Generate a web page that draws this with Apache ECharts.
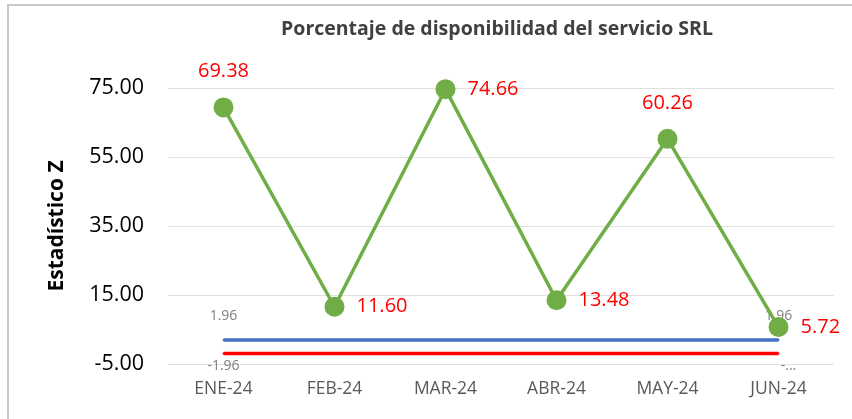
<!DOCTYPE html>
<html>
<head>
<meta charset="utf-8">
<script src="https://cdn.jsdelivr.net/npm/echarts@6/dist/echarts.min.js"></script>
<style>
  html, body { margin: 0; padding: 0; background: #fff; }
  #chart { width: 852px; height: 419px; }
</style>
</head>
<body>
<div id="chart"></div>
<script>
const months = ['ENE-24', 'FEB-24', 'MAR-24', 'ABR-24', 'MAY-24', 'JUN-24']
const zValues = [69.38, 11.60, 74.66, 13.48, 60.26, 5.72]
const upperLimit = [1.96, 1.96, 1.96, 1.96, 1.96, 1.96]
const lowerLimit = [-1.96, -1.96, -1.96, -1.96, -1.96, -1.96]
const zLabelPos = ['top', 'right', 'right', 'right', 'top', 'right']

const font = '"Open Sans", "Noto Sans", sans-serif'
const chart = echarts.init(document.getElementById('chart'))

// small grey labels only on first and last points of the limit lines
function limitData (values, position, lastText) {
  return values.map((v, i) => {
    const edge = i === 0 || i === values.length - 1
    const last = i === values.length - 1
    return {
      value: v,
      label: {
        show: edge,
        position: position,
        distance: position === 'top' ? 16 : 5,
        offset: last && lastText ? [10, 0] : [0, 0],
        color: '#7f7f7f',
        fontSize: 14,
        fontFamily: font,
        formatter: last && lastText ? lastText : '{c}'
      }
    }
  })
}

chart.setOption({
  animation: false,
  title: {
    text: 'Porcentaje de disponibilidad del servicio SRL',
    left: 492,
    textAlign: 'center',
    top: 14,
    textStyle: { fontSize: 19.5, fontWeight: 'bold', color: '#404040', fontFamily: font }
  },
  graphic: [{
    type: 'rect',
    shape: { x: 8, y: 5, width: 850, height: 420 },
    style: { fill: 'none', stroke: '#c8c8c8', lineWidth: 2 },
    silent: true
  }],
  grid: { left: 168, right: 18, top: 88, bottom: 55 },
  xAxis: {
    type: 'category',
    data: months,
    axisLine: { show: false },
    axisTick: { show: false },
    axisLabel: { color: '#595959', fontSize: 17.5, fontFamily: font, margin: 16 }
  },
  yAxis: {
    type: 'value',
    min: -5,
    max: 75,
    interval: 20,
    name: 'Estadístico Z',
    nameLocation: 'middle',
    nameGap: 100,
    nameTextStyle: { fontSize: 21, fontWeight: 'bold', color: '#000', fontFamily: font },
    axisLabel: {
      color: '#000', fontSize: 21.5, fontFamily: font, margin: 24,
      formatter: v => v.toFixed(2)
    },
    splitLine: { lineStyle: { color: '#e0e0e0' } }
  },
  series: [
    {
      type: 'line',
      data: limitData(upperLimit, 'top'),
      symbol: 'circle',
      symbolSize: 2,
      showSymbol: true,
      lineStyle: { color: '#4472C4', width: 3.5 },
      itemStyle: { color: '#4472C4' },
      z: 1
    },
    {
      type: 'line',
      data: limitData(lowerLimit, 'bottom', '-...'),
      symbol: 'circle',
      symbolSize: 2,
      showSymbol: true,
      lineStyle: { color: '#FF0000', width: 3.5 },
      itemStyle: { color: '#FF0000' },
      z: 1
    },
    {
      type: 'line',
      data: zValues.map((v, i) => ({
        value: v,
        label: { position: zLabelPos[i], distance: zLabelPos[i] === 'top' ? 16 : 12 }
      })),
      symbol: 'circle',
      symbolSize: 20,
      itemStyle: { color: '#70AD47' },
      lineStyle: { color: '#70AD47', width: 3.5 },
      label: {
        show: true,
        color: '#FF0000',
        fontSize: 20,
        fontFamily: font,
        formatter: p => p.value.toFixed(2)
      },
      z: 3
    }
  ]
})
</script>
</body>
</html>
